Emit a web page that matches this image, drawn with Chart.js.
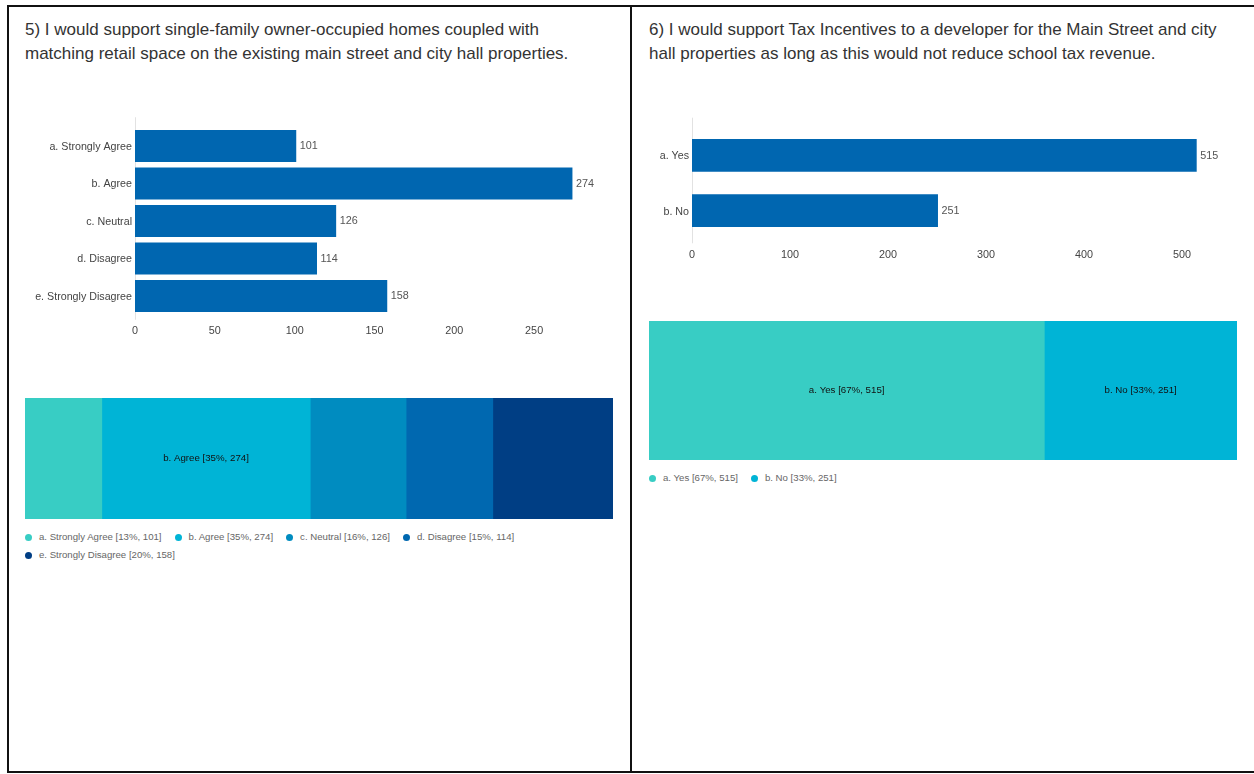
<!DOCTYPE html>
<html>
<head>
<meta charset="utf-8">
<script src="https://cdn.jsdelivr.net/npm/chart.js@4.4.1/dist/chart.umd.min.js"></script>
<style>
  html, body { margin: 0; padding: 0; background: #fff; }
  body { width: 1254px; height: 774px; position: relative; overflow: hidden;
         font-family: "Liberation Sans", Arial, sans-serif; }
  .panel { position: absolute; box-sizing: border-box; border: 2px solid #111; }
  #panel5 { left: 7px; top: 5px; width: 625px; height: 768px; }
  #panel6 { left: 630px; top: 5px; width: 700px; height: 768px; border-left: none; }
  .title { position: absolute; font-size: 17px; line-height: 24px; color: #333; white-space: nowrap; }
  canvas { position: absolute; }
  .legend { position: absolute; font-size: 9.65px; color: #666; line-height: 18px; }
  .legend .item { display: inline-block; white-space: nowrap; margin-right: 13px; }
  .legend .dot { display: inline-block; width: 7px; height: 7px; border-radius: 50%;
                 margin-right: 7px; vertical-align: -0.5px; }
</style>
</head>
<body>
<div class="panel" id="panel5"></div>
<div class="panel" id="panel6"></div>

<div class="title" style="left:25px; top:18px;">5) I would support single-family owner-occupied homes coupled with<br>matching retail space on the existing main street and city hall properties.</div>
<div class="title" style="left:649px; top:18px;">6) I would support Tax Incentives to a developer for the Main Street and city<br>hall properties as long as this would not reduce school tax revenue.</div>

<canvas id="q5Bars" width="600" height="240" style="left:20px; top:110px;"></canvas>
<canvas id="q5Share" width="588" height="121" style="left:25px; top:398px;"></canvas>
<div class="legend" id="q5Legend" style="left:25px; top:528px; width:590px;"></div>

<canvas id="q6Bars" width="600" height="160" style="left:645px; top:110px;"></canvas>
<canvas id="q6Share" width="588" height="139" style="left:649px; top:321px;"></canvas>
<div class="legend" id="q6Legend" style="left:649px; top:469px; width:590px;"></div>

<script>
// Question 5 responses
const q5Categories = ['a. Strongly Agree', 'b. Agree', 'c. Neutral', 'd. Disagree', 'e. Strongly Disagree'];
const q5Counts = [101, 274, 126, 114, 158];
const q5Ticks = [0, 50, 100, 150, 200, 250];
const q5AxisMax = 285;

// Question 6 responses
const q6Categories = ['a. Yes', 'b. No'];
const q6Counts = [515, 251];
const q6Ticks = [0, 100, 200, 300, 400, 500];
const q6AxisMax = 550;

const barColor = '#0066B0';
const shareColors = ['#38CDC4', '#00B4D6', '#008CC0', '#0068B0', '#003E84'];

const FONT = '"Liberation Sans", Arial, sans-serif';
Chart.defaults.font.family = FONT;
Chart.defaults.animation = false;

function sum(arr) { return arr.reduce((a, b) => a + b, 0); }
function shareLabel(cat, val, total) {
  return cat + ' [' + Math.round(val / total * 100) + '%, ' + val + ']';
}

// Value labels at the bar ends plus a light baseline at zero
const barExtras = {
  id: 'barExtras',
  beforeDatasetsDraw(chart) {
    const ctx = chart.ctx, a = chart.chartArea;
    const x0 = Math.round(chart.scales.x.getPixelForValue(0)) + 0.5;
    ctx.save();
    ctx.strokeStyle = '#e2e2e2';
    ctx.lineWidth = 1;
    ctx.beginPath();
    ctx.moveTo(x0, a.top - 10);
    ctx.lineTo(x0, a.bottom + 5);
    ctx.stroke();
    ctx.restore();
  },
  afterDatasetsDraw(chart) {
    const ctx = chart.ctx;
    const meta = chart.getDatasetMeta(0);
    const values = chart.data.datasets[0].data;
    ctx.save();
    ctx.font = '10.8px ' + FONT;
    ctx.fillStyle = '#555';
    ctx.textAlign = 'left';
    ctx.textBaseline = 'middle';
    meta.data.forEach((el, i) => {
      ctx.fillText(String(values[i]), el.x + 3.5, el.y + 0.5);
    });
    ctx.restore();
  }
};

function makeBarChart(id, cats, counts, ticks, axisMax, yWidth, pad, barPct) {
  new Chart(document.getElementById(id), {
    type: 'bar',
    data: {
      labels: cats,
      datasets: [{ data: counts, backgroundColor: barColor, borderWidth: 0,
                   categoryPercentage: 1, barPercentage: barPct }]
    },
    options: {
      indexAxis: 'y',
      responsive: false,
      devicePixelRatio: 1,
      layout: { padding: pad },
      plugins: { legend: { display: false }, tooltip: { enabled: false } },
      scales: {
        x: {
          min: 0, max: axisMax,
          afterBuildTicks(scale) { scale.ticks = ticks.map(v => ({ value: v })); },
          afterFit(scale) { scale.height = 30; },
          grid: { display: false, drawTicks: false },
          border: { display: false },
          ticks: { color: '#444', font: { size: 10.8 }, padding: 10 }
        },
        y: {
          afterFit(scale) { scale.width = yWidth; },
          grid: { display: false, drawTicks: false },
          border: { display: false },
          ticks: { color: '#444', font: { size: 10.7 }, padding: 3, labelOffset: 1 }
        }
      }
    },
    plugins: [barExtras]
  });
}

// Names each share segment in its centre when the text fits
const shareLabels = {
  id: 'shareLabels',
  afterDatasetsDraw(chart) {
    const ctx = chart.ctx;
    const total = chart.options.scales.x.max;
    ctx.save();
    ctx.font = '9.7px ' + FONT;
    ctx.fillStyle = '#111';
    ctx.textAlign = 'center';
    ctx.textBaseline = 'middle';
    chart.data.datasets.forEach((ds, i) => {
      const el = chart.getDatasetMeta(i).data[0];
      const text = shareLabel(ds.label, ds.data[0], total);
      const w = Math.abs(el.x - el.base);
      if (ctx.measureText(text).width + 12 < w) {
        ctx.fillText(text, (el.x + el.base) / 2, el.y);
      }
    });
    ctx.restore();
  }
};

function makeShareChart(id, cats, counts) {
  const total = sum(counts);
  new Chart(document.getElementById(id), {
    type: 'bar',
    data: {
      labels: [''],
      datasets: cats.map((c, i) => ({
        label: c, data: [counts[i]], backgroundColor: shareColors[i],
        borderWidth: 0, categoryPercentage: 1, barPercentage: 1
      }))
    },
    options: {
      indexAxis: 'y',
      responsive: false,
      devicePixelRatio: 1,
      layout: { padding: 0 },
      plugins: { legend: { display: false }, tooltip: { enabled: false } },
      scales: {
        x: { stacked: true, min: 0, max: total, display: false },
        y: { stacked: true, display: false }
      }
    },
    plugins: [shareLabels]
  });
}

function makeLegend(id, cats, counts) {
  const total = sum(counts);
  const box = document.getElementById(id);
  cats.forEach((c, i) => {
    const item = document.createElement('span');
    item.className = 'item';
    const dot = document.createElement('span');
    dot.className = 'dot';
    dot.style.background = shareColors[i];
    item.appendChild(dot);
    item.appendChild(document.createTextNode(shareLabel(c, counts[i], total)));
    box.appendChild(item);
  });
}

makeBarChart('q5Bars', q5Categories, q5Counts, q5Ticks, q5AxisMax, 115,
             { top: 17.25, right: 30, bottom: 5.25, left: 0 }, 32 / 37.5);
makeShareChart('q5Share', q5Categories, q5Counts);
makeLegend('q5Legend', q5Categories, q5Counts);

makeBarChart('q6Bars', q6Categories, q6Counts, q6Ticks, q6AxisMax, 47,
             { top: 17.7, right: 14, bottom: 1.7, left: 0 }, 32.7 / 55.2);
makeShareChart('q6Share', q6Categories, q6Counts);
makeLegend('q6Legend', q6Categories, q6Counts);
</script>
</body>
</html>
